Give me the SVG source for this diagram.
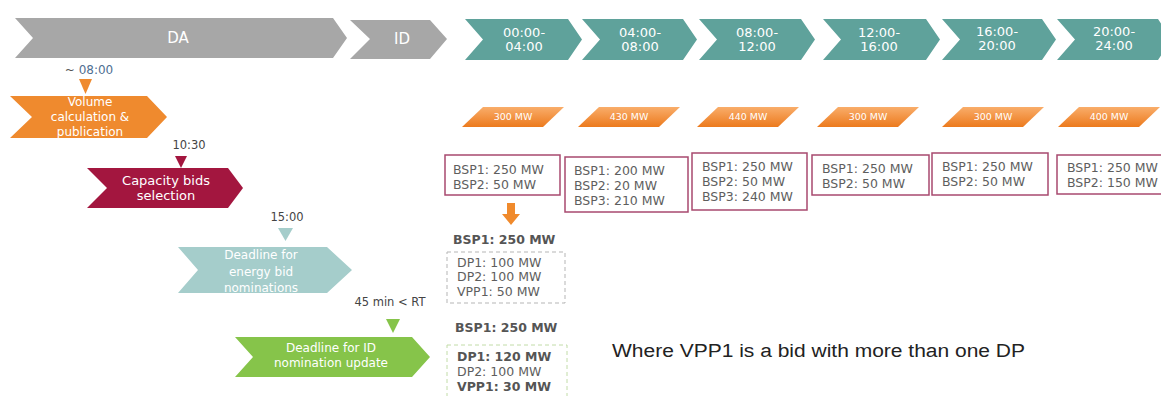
<svg xmlns="http://www.w3.org/2000/svg" width="1161" height="396" viewBox="0 0 1161 396">
<style>
text{font-family:"DejaVu Sans","Liberation Sans",sans-serif}
.wt{fill:#ffffff;text-anchor:middle}
.gray{fill:#a7a7a7}
.teal{fill:#5fa29b}
.box{fill:#ffffff;stroke:#a8496f;stroke-width:1.5}
.bt{fill:#5e5e5e;font-size:12.5px}
.bb{fill:#555555;font-size:12.5px;font-weight:bold}
.dash{fill:none;stroke:#b5b5b5;stroke-width:1;stroke-dasharray:4 3}
.dashg{fill:none;stroke:#c2dca8;stroke-width:1;stroke-dasharray:4 3}
.par{fill:url(#og)}
.pt{fill:#ffffff;font-size:9.5px;text-anchor:middle}
.tm{fill:#444444;font-size:11.5px;text-anchor:middle}
</style>
<defs>
<linearGradient id="og" x1="0" y1="0" x2="0" y2="1">
<stop offset="0" stop-color="#f9ad6a"/>
<stop offset="1" stop-color="#ec7a1d"/>
</linearGradient>
</defs>
<rect width="1161" height="396" fill="#ffffff"/>

<g id="DA">
<polygon class="gray" points="15,18 333,18 347,38 333,58 15,58 33,38"/>
<text class="wt" x="178" y="43" font-size="15">DA</text>
</g>
<g id="ID">
<polygon class="gray" points="350,20 430,20 447,39 430,59 350,59 370,39"/>
<text class="wt" x="402" y="44" font-size="15">ID</text>
</g>

<g id="t1"><polygon class="teal" points="465,19 568,19 582,39.5 568,60 465,60 483,39.5"/><text class="wt" font-size="13"><tspan x="524" y="37">00:00-</tspan><tspan x="524" y="51">04:00</tspan></text></g>
<g id="t2"><polygon class="teal" points="582,19 683,19 697,39.5 683,60 582,60 600,39.5"/><text class="wt" font-size="13"><tspan x="640" y="37">04:00-</tspan><tspan x="640" y="51">08:00</tspan></text></g>
<g id="t3"><polygon class="teal" points="699,19 801,19 815,39.5 801,60 699,60 717,39.5"/><text class="wt" font-size="13"><tspan x="757" y="37">08:00-</tspan><tspan x="757" y="51">12:00</tspan></text></g>
<g id="t4"><polygon class="teal" points="823,19 926,19 940,39.5 926,60 823,60 841,39.5"/><text class="wt" font-size="13"><tspan x="879" y="37">12:00-</tspan><tspan x="879" y="51">16:00</tspan></text></g>
<g id="t5"><polygon class="teal" points="942,19 1042,19 1056,39.5 1042,60 942,60 960,39.5"/><text class="wt" font-size="13"><tspan x="997" y="36">16:00-</tspan><tspan x="997" y="50">20:00</tspan></text></g>
<g id="t6"><polygon class="teal" points="1057,19 1158,19 1172,39.5 1158,60 1057,60 1075,39.5"/><text class="wt" font-size="13"><tspan x="1114" y="36">20:00-</tspan><tspan x="1114" y="50">24:00</tspan></text></g>

<g id="p1"><polygon class="par" points="462,127 483,107 564,107 543,127"/><text class="pt" x="513" y="120">300 MW</text></g>
<g id="p2"><polygon class="par" points="578,127 599,107 680,107 659,127"/><text class="pt" x="629" y="120">430 MW</text></g>
<g id="p3"><polygon class="par" points="697,127 718,107 799,107 778,127"/><text class="pt" x="748" y="120">440 MW</text></g>
<g id="p4"><polygon class="par" points="817,127 838,107 919,107 898,127"/><text class="pt" x="868" y="120">300 MW</text></g>
<g id="p5"><polygon class="par" points="942,127 963,107 1044,107 1023,127"/><text class="pt" x="993" y="120">300 MW</text></g>
<g id="p6"><polygon class="par" points="1058,127 1079,107 1160,107 1139,127"/><text class="pt" x="1109" y="120">400 MW</text></g>

<g id="t0800">
<text x="89" y="74" font-size="12" text-anchor="middle"><tspan fill="#555555">~ </tspan><tspan fill="#4f6f92">08:00</tspan></text>
<polygon fill="#ef8a2e" points="79,79 92,79 85.5,94"/>
</g>
<g id="volume">
<polygon fill="#ef8a2e" points="10,96 147,96 167,117 147,138 10,138 32,117"/>
<text class="wt" font-size="12"><tspan x="90" y="106">Volume</tspan><tspan x="90" y="121">calculation &amp;</tspan><tspan x="90" y="136">publication</tspan></text>
</g>

<g id="t1030">
<text class="tm" x="189" y="149">10:30</text>
<polygon fill="#a3163f" points="175,156 187,156 181,168"/>
</g>
<g id="capacity">
<polygon fill="#a3163f" points="87,168 228,168 243,188 228,208 87,208 107,188"/>
<text class="wt" font-size="13"><tspan x="166" y="185">Capacity bids</tspan><tspan x="166" y="200">selection</tspan></text>
</g>

<g id="t1500">
<text class="tm" x="287" y="221">15:00</text>
<polygon fill="#a5cdcb" points="278,228 293,228 285.5,241"/>
</g>
<g id="energy">
<polygon fill="#a5cdcb" points="178,247 327,247 352,270 327,293 178,293 198,270"/>
<text class="wt" font-size="12" fill="#f2f8f8"><tspan x="261" y="259">Deadline for</tspan><tspan x="261" y="276">energy bid</tspan><tspan x="261" y="292">nominations</tspan></text>
</g>

<g id="t45">
<text class="tm" x="390" y="306" font-size="10.5">45 min &lt; RT</text>
<polygon fill="#86c44a" points="386,319 400,319 393,333"/>
</g>
<g id="idupdate">
<polygon fill="#86c44a" points="235,337 412,337 430,357 412,377 235,377 253,357"/>
<text class="wt" font-size="12"><tspan x="331" y="352">Deadline for ID</tspan><tspan x="331" y="367">nomination update</tspan></text>
</g>

<g id="b1"><rect class="box" x="445" y="155" width="115" height="40"/><text class="bt"><tspan x="453" y="174">BSP1: 250 MW</tspan><tspan x="453" y="189">BSP2: 50 MW</tspan></text></g>
<g id="b2"><rect class="box" x="565" y="157" width="123" height="55"/><text class="bt"><tspan x="574" y="175">BSP1: 200 MW</tspan><tspan x="574" y="190">BSP2: 20 MW</tspan><tspan x="574" y="205">BSP3: 210 MW</tspan></text></g>
<g id="b3"><rect class="box" x="692" y="153" width="115" height="57"/><text class="bt"><tspan x="702" y="171">BSP1: 250 MW</tspan><tspan x="702" y="186">BSP2: 50 MW</tspan><tspan x="702" y="201">BSP3: 240 MW</tspan></text></g>
<g id="b4"><rect class="box" x="812" y="155" width="117" height="40"/><text class="bt"><tspan x="822" y="173">BSP1: 250 MW</tspan><tspan x="822" y="188">BSP2: 50 MW</tspan></text></g>
<g id="b5"><rect class="box" x="932" y="153" width="116" height="42"/><text class="bt"><tspan x="942" y="171">BSP1: 250 MW</tspan><tspan x="942" y="186">BSP2: 50 MW</tspan></text></g>
<g id="b6"><rect class="box" x="1057" y="155" width="110" height="39"/><text class="bt"><tspan x="1067" y="172">BSP1: 250 MW</tspan><tspan x="1067" y="187">BSP2: 150 MW</tspan></text></g>

<g id="connectors">
<polygon fill="#f08a2c" points="507,203 515,203 515,214 520,214 511,225 502,214 507,214"/>
</g>

<g id="split1">
<text class="bb" x="453" y="244">BSP1: 250 MW</text>
<rect class="dash" x="447" y="252" width="118" height="51"/>
<text class="bt"><tspan x="457" y="267">DP1: 100 MW</tspan><tspan x="457" y="281">DP2: 100 MW</tspan><tspan x="457" y="296">VPP1: 50 MW</tspan></text>
</g>
<g id="split2">
<text class="bb" x="455" y="332">BSP1: 250 MW</text>
<rect class="dashg" x="447" y="345" width="120" height="60"/>
<text class="bb" x="457" y="361">DP1: 120 MW</text>
<text class="bt" x="457" y="376">DP2: 100 MW</text>
<text class="bb" x="457" y="391">VPP1: 30 MW</text>
</g>

<g id="note">
<text x="612" y="357" font-size="18" fill="#222222" style="font-family:'Liberation Sans',Arial,sans-serif" textLength="413" lengthAdjust="spacingAndGlyphs">Where VPP1 is a bid with more than one DP</text>
</g>
</svg>
